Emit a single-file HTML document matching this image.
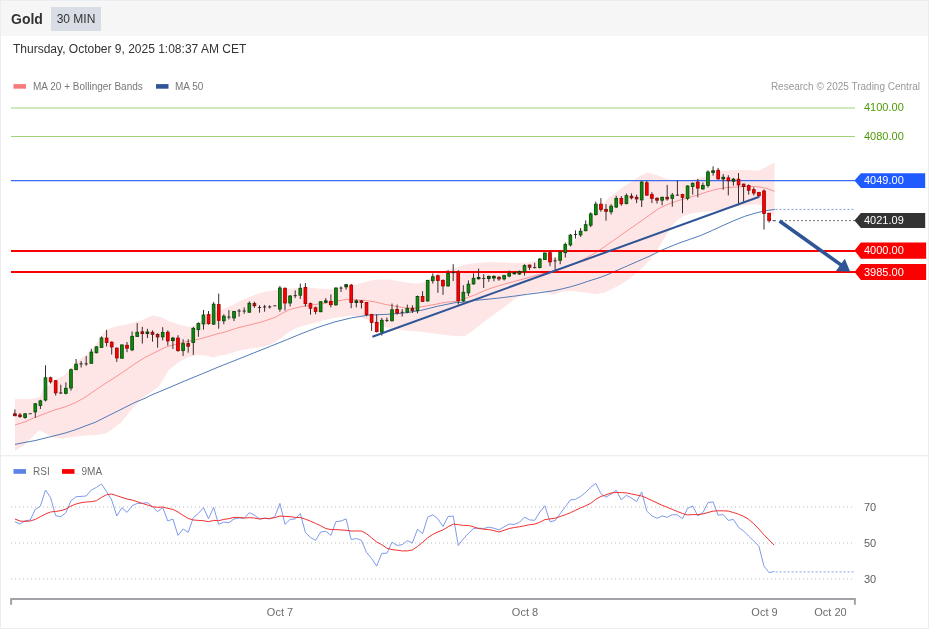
<!DOCTYPE html>
<html><head><meta charset="utf-8"><title>Gold 30 MIN</title>
<style>
html,body{margin:0;padding:0;background:#fff;}
body{width:929px;height:629px;overflow:hidden;position:relative;font-family:"Liberation Sans",Arial,sans-serif;}
#frame{position:absolute;left:0;top:0;width:927px;height:627px;border:1px solid #eaeef2;background:#fff;}
#hdr{position:absolute;left:1px;top:1px;width:927px;height:35px;background:#f6f6f6;}
#title{position:absolute;left:11px;top:10px;font-size:14px;font-weight:bold;color:#333;line-height:18px;}
#tf{position:absolute;left:51px;top:7px;width:50px;height:24px;background:#d8dde6;color:#333;font-size:12px;line-height:24px;text-align:center;}
#date{position:absolute;left:13px;top:41px;font-size:12px;color:#333;line-height:16px;white-space:nowrap;}
svg{position:absolute;left:0;top:0;}
svg text{font-family:"Liberation Sans",Arial,sans-serif;}
</style></head><body>
<div id="frame"></div>
<div id="hdr"></div>
<div id="title">Gold</div>
<div id="tf">30 MIN</div>
<div id="date">Thursday, October 9, 2025 1:08:37 AM CET</div>
<svg width="929" height="629" viewBox="0 0 929 629">
<polygon points="15.0,399.0 32.0,399.0 40.0,397.0 43.5,388.0 48.0,386.0 53.0,382.0 58.0,378.0 63.0,376.0 68.5,371.0 73.5,365.0 79.0,360.0 84.0,356.5 89.0,352.5 95.0,346.0 100.3,337.0 106.8,329.6 116.5,326.3 124.5,324.7 132.6,323.1 140.7,320.7 148.8,316.7 153.6,315.5 161.7,317.5 168.2,320.7 177.9,324.2 187.5,326.8 192.4,327.0 197.0,324.0 202.0,320.0 207.0,316.0 212.0,313.0 217.0,311.0 221.5,309.9 230.5,306.0 240.8,300.8 251.2,296.3 261.5,292.4 271.8,290.5 277.5,289.9 290.5,288.8 297.0,288.0 309.9,288.0 321.2,288.8 329.2,289.3 339.0,288.6 347.0,286.8 356.0,284.6 365.4,282.1 375.8,279.5 389.6,279.5 396.0,280.7 403.3,282.1 412.0,283.2 417.1,283.4 422.0,282.8 427.4,281.0 432.0,276.0 440.0,272.0 448.0,269.5 456.0,267.8 462.8,265.3 469.0,263.7 479.0,263.0 490.0,262.0 500.0,262.2 512.0,263.0 525.5,262.8 535.2,261.2 543.8,259.6 550.3,258.5 556.7,257.2 563.0,254.0 566.0,251.0 572.6,243.3 581.7,231.7 588.0,222.6 594.6,213.6 602.4,204.5 610.0,196.8 620.4,189.0 630.8,182.0 636.0,178.5 641.0,175.5 647.5,172.4 657.2,175.2 666.8,178.9 673.0,180.0 680.0,180.5 690.0,180.0 700.0,178.0 710.0,175.0 715.0,171.8 727.7,170.3 746.8,170.0 758.3,170.9 765.9,167.1 774.5,162.6 774.5,217.3 771.0,213.0 767.0,209.0 762.0,205.5 756.0,204.0 746.8,205.3 739.5,206.3 727.7,208.4 715.0,211.0 700.8,212.0 692.7,213.2 684.6,215.6 678.0,219.6 671.7,226.1 666.8,234.2 662.0,242.2 657.0,250.3 650.0,259.9 640.0,269.9 630.0,278.6 620.0,284.9 610.0,290.0 604.0,292.8 596.4,294.3 584.3,292.5 570.6,290.8 560.2,291.9 553.3,295.0 547.0,292.8 539.6,291.3 527.5,293.4 515.4,298.6 501.7,308.9 489.6,317.5 480.0,325.0 472.4,331.0 465.0,336.0 460.0,336.3 450.0,335.6 437.8,334.1 420.6,331.7 403.3,330.3 389.6,328.6 377.5,325.1 365.4,319.1 360.0,316.8 351.7,315.6 335.0,317.8 324.8,320.0 313.2,323.2 302.9,326.0 296.4,328.1 287.8,332.4 280.9,338.4 270.6,344.4 262.5,347.0 250.0,348.6 237.5,351.1 225.0,354.9 220.0,355.6 213.4,357.5 205.3,355.6 197.2,355.0 187.5,357.5 177.9,362.7 168.2,370.8 163.0,380.0 158.0,387.5 150.0,392.8 142.0,398.5 134.0,406.5 127.5,414.6 121.0,422.7 114.6,427.5 106.5,433.2 98.5,434.8 85.5,435.6 75.9,436.4 69.4,437.2 61.3,438.5 53.2,437.2 45.2,433.2 39.5,430.0 32.2,437.2 24.2,445.3 15.0,451.0" fill="#fee6e6" stroke="none"/>
<line x1="11" x2="855" y1="108" y2="108" stroke="#a3d07c" stroke-width="1.1"/>
<line x1="11" x2="855" y1="136.5" y2="136.5" stroke="#a3d07c" stroke-width="1.1"/>
<polyline points="15.0,424.9 25.0,421.9 35.0,417.4 45.0,413.6 55.0,409.9 65.0,406.9 75.0,402.9 85.0,397.4 95.0,390.4 105.0,383.7 115.0,377.4 125.0,370.7 135.0,363.7 145.0,357.4 155.0,352.4 165.0,347.4 175.0,344.5 185.0,342.0 195.0,340.0 205.0,337.5 215.0,334.5 225.0,332.0 237.5,327.9 250.0,324.9 262.5,321.7 275.0,317.4 282.4,313.2 290.0,309.4 300.0,306.9 310.0,305.4 320.0,303.7 330.0,302.4 340.0,300.4 347.4,299.4 355.0,299.9 365.0,300.4 375.0,301.9 385.0,304.4 395.0,306.2 405.0,307.9 415.0,307.9 425.0,306.2 435.0,304.4 445.0,302.4 457.0,301.2 462.5,299.4 475.0,294.9 487.5,289.4 500.0,285.4 512.4,281.9 525.0,278.6 537.4,274.9 550.0,271.9 562.4,268.6 575.0,263.7 587.4,257.4 600.0,249.9 612.3,241.2 624.8,232.4 637.3,223.7 649.8,214.9 658.8,208.5 668.5,204.0 678.2,200.6 687.9,197.8 697.5,195.1 707.2,191.8 716.9,189.2 726.6,187.6 736.3,187.0 746.0,186.5 755.7,186.5 765.4,188.1 770.0,189.7 774.5,191.3" fill="none" stroke="#f88a8a" stroke-width="0.9"/>
<polyline points="15.0,444.4 25.0,442.4 35.0,440.6 45.0,438.1 55.0,435.6 65.0,433.1 75.0,429.9 85.0,426.1 95.0,422.4 105.0,417.4 115.0,412.4 125.0,407.4 135.0,402.4 145.0,398.3 150.0,395.6 165.0,389.4 184.4,381.1 201.7,374.0 218.9,366.8 236.1,360.0 253.3,353.1 270.6,346.2 287.8,339.3 300.0,334.2 317.2,327.6 334.4,322.0 351.7,317.8 368.9,315.1 386.1,314.4 403.3,313.1 420.6,310.5 437.8,306.2 455.0,302.7 462.8,302.3 475.8,300.3 490.0,299.0 501.7,297.7 512.4,296.4 527.5,294.3 540.0,292.7 553.3,290.8 562.4,288.8 570.6,286.8 579.0,284.3 587.8,281.3 600.0,277.5 610.0,273.6 612.3,272.4 624.8,267.0 637.3,261.5 649.8,256.0 660.0,251.0 668.5,247.3 680.0,242.7 690.8,239.0 701.5,235.2 712.3,230.4 723.0,225.5 733.8,220.7 744.6,216.4 755.3,213.1 764.0,211.0 774.7,209.4" fill="none" stroke="#3e6db0" stroke-width="0.9"/>
<line x1="11" x2="856" y1="180.6" y2="180.6" stroke="#3b6cf0" stroke-width="1.2"/>
<line x1="11" x2="856" y1="251" y2="251" stroke="#fb0000" stroke-width="2.1"/>
<line x1="11" x2="856" y1="272" y2="272" stroke="#fb0000" stroke-width="2.1"/>
<line x1="775.5" x2="855" y1="209.4" y2="209.4" stroke="#7f9cd0" stroke-width="1" stroke-dasharray="2,2"/>
<line x1="781" x2="855" y1="220.6" y2="220.6" stroke="#777" stroke-width="1" stroke-dasharray="2,2"/>
<line x1="14.9" x2="14.9" y1="409.4" y2="416.2" stroke="#3a2a2a" stroke-width="1"/>
<rect x="13.55" y="413.8" width="2.7" height="1.9" fill="#d80808" stroke="#7a1010" stroke-width="0.9"/>
<line x1="20.0" x2="20.0" y1="413.0" y2="417.8" stroke="#3a2a2a" stroke-width="1"/>
<rect x="18.65" y="415.0" width="2.7" height="1.5" fill="#d80808" stroke="#7a1010" stroke-width="0.9"/>
<line x1="25.1" x2="25.1" y1="413.5" y2="418.7" stroke="#3a2a2a" stroke-width="1"/>
<rect x="23.74" y="413.8" width="2.7" height="3.7" fill="#108a10" stroke="#085008" stroke-width="0.9"/>
<line x1="30.2" x2="30.2" y1="413.5" y2="413.7" stroke="#3a2a2a" stroke-width="1"/>
<rect x="28.6" y="413.3" width="3.2" height="0.9" fill="#2a2020"/>
<line x1="35.3" x2="35.3" y1="403.0" y2="417.8" stroke="#3a2a2a" stroke-width="1"/>
<rect x="33.93" y="403.8" width="2.7" height="8.1" fill="#108a10" stroke="#085008" stroke-width="0.9"/>
<line x1="40.4" x2="40.4" y1="399.8" y2="409.0" stroke="#3a2a2a" stroke-width="1"/>
<rect x="39.03" y="400.9" width="2.7" height="4.5" fill="#108a10" stroke="#085008" stroke-width="0.9"/>
<line x1="45.5" x2="45.5" y1="365.3" y2="401.4" stroke="#3a2a2a" stroke-width="1"/>
<rect x="44.13" y="377.8" width="2.7" height="22.2" fill="#108a10" stroke="#085008" stroke-width="0.9"/>
<line x1="50.6" x2="50.6" y1="376.6" y2="383.6" stroke="#3a2a2a" stroke-width="1"/>
<rect x="49.22" y="377.8" width="2.7" height="4.0" fill="#ff0000" stroke="#a80000" stroke-width="0.9"/>
<line x1="55.7" x2="55.7" y1="380.0" y2="395.5" stroke="#3a2a2a" stroke-width="1"/>
<rect x="54.32" y="380.7" width="2.7" height="12.1" fill="#ff0000" stroke="#a80000" stroke-width="0.9"/>
<line x1="60.8" x2="60.8" y1="384.7" y2="393.7" stroke="#3a2a2a" stroke-width="1"/>
<rect x="59.2" y="392.5" width="3.2" height="1.0" fill="#2a2020"/>
<line x1="65.9" x2="65.9" y1="382.3" y2="394.4" stroke="#3a2a2a" stroke-width="1"/>
<rect x="64.51" y="388.3" width="2.7" height="5.0" fill="#108a10" stroke="#085008" stroke-width="0.9"/>
<line x1="71.0" x2="71.0" y1="368.6" y2="390.7" stroke="#3a2a2a" stroke-width="1"/>
<rect x="69.61" y="369.7" width="2.7" height="18.3" fill="#108a10" stroke="#085008" stroke-width="0.9"/>
<line x1="76.1" x2="76.1" y1="359.0" y2="370.2" stroke="#3a2a2a" stroke-width="1"/>
<rect x="74.70" y="364.2" width="2.7" height="5.4" fill="#108a10" stroke="#085008" stroke-width="0.9"/>
<line x1="81.1" x2="81.1" y1="361.0" y2="367.5" stroke="#3a2a2a" stroke-width="1"/>
<rect x="79.5" y="363.4" width="3.2" height="0.9" fill="#2a2020"/>
<line x1="86.2" x2="86.2" y1="356.1" y2="365.8" stroke="#3a2a2a" stroke-width="1"/>
<rect x="84.6" y="363.4" width="3.2" height="0.9" fill="#2a2020"/>
<line x1="91.3" x2="91.3" y1="348.8" y2="363.7" stroke="#3a2a2a" stroke-width="1"/>
<rect x="89.99" y="352.1" width="2.7" height="11.2" fill="#108a10" stroke="#085008" stroke-width="0.9"/>
<line x1="96.4" x2="96.4" y1="346.2" y2="353.3" stroke="#3a2a2a" stroke-width="1"/>
<rect x="95.09" y="346.9" width="2.7" height="5.8" fill="#108a10" stroke="#085008" stroke-width="0.9"/>
<line x1="101.5" x2="101.5" y1="336.4" y2="347.8" stroke="#3a2a2a" stroke-width="1"/>
<rect x="100.18" y="338.0" width="2.7" height="9.4" fill="#108a10" stroke="#085008" stroke-width="0.9"/>
<line x1="106.6" x2="106.6" y1="329.9" y2="346.5" stroke="#3a2a2a" stroke-width="1"/>
<rect x="105.28" y="338.1" width="2.7" height="4.4" fill="#ff0000" stroke="#a80000" stroke-width="0.9"/>
<line x1="111.7" x2="111.7" y1="341.4" y2="354.6" stroke="#3a2a2a" stroke-width="1"/>
<rect x="110.37" y="342.2" width="2.7" height="4.7" fill="#ff0000" stroke="#a80000" stroke-width="0.9"/>
<line x1="116.8" x2="116.8" y1="347.4" y2="361.9" stroke="#3a2a2a" stroke-width="1"/>
<rect x="115.47" y="348.2" width="2.7" height="9.7" fill="#ff0000" stroke="#a80000" stroke-width="0.9"/>
<line x1="121.9" x2="121.9" y1="344.9" y2="358.5" stroke="#3a2a2a" stroke-width="1"/>
<rect x="120.57" y="344.9" width="2.7" height="13.3" fill="#108a10" stroke="#085008" stroke-width="0.9"/>
<line x1="127.0" x2="127.0" y1="342.0" y2="352.2" stroke="#3a2a2a" stroke-width="1"/>
<rect x="125.66" y="345.3" width="2.7" height="2.9" fill="#ff0000" stroke="#a80000" stroke-width="0.9"/>
<line x1="132.1" x2="132.1" y1="331.5" y2="351.1" stroke="#3a2a2a" stroke-width="1"/>
<rect x="130.76" y="336.4" width="2.7" height="13.4" fill="#108a10" stroke="#085008" stroke-width="0.9"/>
<line x1="137.2" x2="137.2" y1="323.1" y2="336.9" stroke="#3a2a2a" stroke-width="1"/>
<rect x="135.85" y="332.3" width="2.7" height="4.1" fill="#108a10" stroke="#085008" stroke-width="0.9"/>
<line x1="142.3" x2="142.3" y1="326.8" y2="343.6" stroke="#3a2a2a" stroke-width="1"/>
<rect x="140.95" y="331.8" width="2.7" height="1.8" fill="#d80808" stroke="#7a1010" stroke-width="0.9"/>
<line x1="147.4" x2="147.4" y1="328.8" y2="338.1" stroke="#3a2a2a" stroke-width="1"/>
<rect x="146.05" y="332.0" width="2.7" height="1.6" fill="#0c6c0c" stroke="#063a06" stroke-width="0.9"/>
<line x1="152.5" x2="152.5" y1="330.4" y2="341.7" stroke="#3a2a2a" stroke-width="1"/>
<rect x="151.14" y="332.3" width="2.7" height="2.0" fill="#d80808" stroke="#7a1010" stroke-width="0.9"/>
<line x1="157.6" x2="157.6" y1="333.3" y2="347.7" stroke="#3a2a2a" stroke-width="1"/>
<rect x="156.24" y="334.4" width="2.7" height="2.5" fill="#d80808" stroke="#7a1010" stroke-width="0.9"/>
<line x1="162.7" x2="162.7" y1="327.2" y2="340.4" stroke="#3a2a2a" stroke-width="1"/>
<rect x="161.33" y="332.5" width="2.7" height="4.4" fill="#108a10" stroke="#085008" stroke-width="0.9"/>
<line x1="167.8" x2="167.8" y1="330.4" y2="345.7" stroke="#3a2a2a" stroke-width="1"/>
<rect x="166.43" y="332.3" width="2.7" height="8.6" fill="#ff0000" stroke="#a80000" stroke-width="0.9"/>
<line x1="172.9" x2="172.9" y1="336.9" y2="349.0" stroke="#3a2a2a" stroke-width="1"/>
<rect x="171.53" y="338.1" width="2.7" height="2.5" fill="#0c6c0c" stroke="#063a06" stroke-width="0.9"/>
<line x1="178.0" x2="178.0" y1="335.2" y2="351.7" stroke="#3a2a2a" stroke-width="1"/>
<rect x="176.62" y="338.1" width="2.7" height="12.5" fill="#ff0000" stroke="#a80000" stroke-width="0.9"/>
<line x1="183.1" x2="183.1" y1="339.3" y2="355.9" stroke="#3a2a2a" stroke-width="1"/>
<rect x="181.72" y="343.6" width="2.7" height="7.0" fill="#108a10" stroke="#085008" stroke-width="0.9"/>
<line x1="188.2" x2="188.2" y1="339.3" y2="352.7" stroke="#3a2a2a" stroke-width="1"/>
<rect x="186.81" y="343.6" width="2.7" height="2.6" fill="#d80808" stroke="#7a1010" stroke-width="0.9"/>
<line x1="193.3" x2="193.3" y1="326.8" y2="354.9" stroke="#3a2a2a" stroke-width="1"/>
<rect x="191.91" y="328.4" width="2.7" height="14.1" fill="#108a10" stroke="#085008" stroke-width="0.9"/>
<line x1="198.4" x2="198.4" y1="322.3" y2="336.8" stroke="#3a2a2a" stroke-width="1"/>
<rect x="197.01" y="323.6" width="2.7" height="6.0" fill="#108a10" stroke="#085008" stroke-width="0.9"/>
<line x1="203.5" x2="203.5" y1="309.9" y2="329.6" stroke="#3a2a2a" stroke-width="1"/>
<rect x="202.10" y="315.0" width="2.7" height="8.9" fill="#108a10" stroke="#085008" stroke-width="0.9"/>
<line x1="208.5" x2="208.5" y1="311.0" y2="324.7" stroke="#3a2a2a" stroke-width="1"/>
<rect x="207.20" y="314.6" width="2.7" height="9.0" fill="#ff0000" stroke="#a80000" stroke-width="0.9"/>
<line x1="213.6" x2="213.6" y1="302.1" y2="324.9" stroke="#3a2a2a" stroke-width="1"/>
<rect x="212.29" y="304.2" width="2.7" height="19.9" fill="#108a10" stroke="#085008" stroke-width="0.9"/>
<line x1="218.7" x2="218.7" y1="293.6" y2="328.7" stroke="#3a2a2a" stroke-width="1"/>
<rect x="217.39" y="304.6" width="2.7" height="15.7" fill="#ff0000" stroke="#a80000" stroke-width="0.9"/>
<line x1="223.8" x2="223.8" y1="314.3" y2="324.3" stroke="#3a2a2a" stroke-width="1"/>
<rect x="222.49" y="316.2" width="2.7" height="4.6" fill="#108a10" stroke="#085008" stroke-width="0.9"/>
<line x1="228.9" x2="228.9" y1="310.1" y2="319.5" stroke="#3a2a2a" stroke-width="1"/>
<rect x="227.3" y="316.6" width="3.2" height="0.9" fill="#2a2020"/>
<line x1="234.0" x2="234.0" y1="311.0" y2="321.1" stroke="#3a2a2a" stroke-width="1"/>
<rect x="232.68" y="311.4" width="2.7" height="6.5" fill="#108a10" stroke="#085008" stroke-width="0.9"/>
<line x1="239.1" x2="239.1" y1="309.0" y2="316.6" stroke="#3a2a2a" stroke-width="1"/>
<rect x="237.5" y="310.5" width="3.2" height="1.0" fill="#2a2020"/>
<line x1="244.2" x2="244.2" y1="307.4" y2="313.8" stroke="#3a2a2a" stroke-width="1"/>
<rect x="242.6" y="310.6" width="3.2" height="0.9" fill="#2a2020"/>
<line x1="249.3" x2="249.3" y1="301.4" y2="312.7" stroke="#3a2a2a" stroke-width="1"/>
<rect x="247.97" y="303.3" width="2.7" height="8.9" fill="#108a10" stroke="#085008" stroke-width="0.9"/>
<line x1="254.4" x2="254.4" y1="301.7" y2="307.8" stroke="#3a2a2a" stroke-width="1"/>
<rect x="253.06" y="303.6" width="2.7" height="2.1" fill="#d80808" stroke="#7a1010" stroke-width="0.9"/>
<line x1="259.5" x2="259.5" y1="305.3" y2="312.7" stroke="#3a2a2a" stroke-width="1"/>
<rect x="257.9" y="307.0" width="3.2" height="0.9" fill="#2a2020"/>
<line x1="264.6" x2="264.6" y1="304.9" y2="311.7" stroke="#3a2a2a" stroke-width="1"/>
<rect x="263.0" y="306.5" width="3.2" height="0.9" fill="#2a2020"/>
<line x1="269.7" x2="269.7" y1="305.3" y2="308.5" stroke="#3a2a2a" stroke-width="1"/>
<rect x="268.1" y="306.5" width="3.2" height="0.9" fill="#2a2020"/>
<line x1="274.8" x2="274.8" y1="305.5" y2="305.9" stroke="#3a2a2a" stroke-width="1"/>
<rect x="273.2" y="305.4" width="3.2" height="0.9" fill="#2a2020"/>
<line x1="279.9" x2="279.9" y1="285.9" y2="311.7" stroke="#3a2a2a" stroke-width="1"/>
<rect x="278.54" y="288.0" width="2.7" height="21.0" fill="#108a10" stroke="#085008" stroke-width="0.9"/>
<line x1="285.0" x2="285.0" y1="287.5" y2="310.6" stroke="#3a2a2a" stroke-width="1"/>
<rect x="283.64" y="288.3" width="2.7" height="14.7" fill="#ff0000" stroke="#a80000" stroke-width="0.9"/>
<line x1="290.1" x2="290.1" y1="295.2" y2="306.5" stroke="#3a2a2a" stroke-width="1"/>
<rect x="288.73" y="296.0" width="2.7" height="7.0" fill="#108a10" stroke="#085008" stroke-width="0.9"/>
<line x1="295.2" x2="295.2" y1="290.4" y2="298.1" stroke="#3a2a2a" stroke-width="1"/>
<rect x="293.6" y="295.2" width="3.2" height="0.9" fill="#2a2020"/>
<line x1="300.3" x2="300.3" y1="283.6" y2="299.0" stroke="#3a2a2a" stroke-width="1"/>
<rect x="298.93" y="288.3" width="2.7" height="6.9" fill="#108a10" stroke="#085008" stroke-width="0.9"/>
<line x1="305.4" x2="305.4" y1="283.1" y2="306.5" stroke="#3a2a2a" stroke-width="1"/>
<rect x="304.02" y="287.5" width="2.7" height="16.1" fill="#ff0000" stroke="#a80000" stroke-width="0.9"/>
<line x1="310.5" x2="310.5" y1="302.5" y2="314.6" stroke="#3a2a2a" stroke-width="1"/>
<rect x="309.12" y="303.6" width="2.7" height="4.6" fill="#ff0000" stroke="#a80000" stroke-width="0.9"/>
<line x1="315.6" x2="315.6" y1="306.5" y2="314.3" stroke="#3a2a2a" stroke-width="1"/>
<rect x="314.21" y="307.8" width="2.7" height="3.6" fill="#ff0000" stroke="#a80000" stroke-width="0.9"/>
<line x1="320.7" x2="320.7" y1="301.4" y2="312.2" stroke="#3a2a2a" stroke-width="1"/>
<rect x="319.31" y="301.7" width="2.7" height="10.0" fill="#108a10" stroke="#085008" stroke-width="0.9"/>
<line x1="325.8" x2="325.8" y1="298.1" y2="303.3" stroke="#3a2a2a" stroke-width="1"/>
<rect x="324.41" y="300.9" width="2.7" height="1.3" fill="#0c6c0c" stroke="#063a06" stroke-width="0.9"/>
<line x1="330.9" x2="330.9" y1="294.4" y2="307.4" stroke="#3a2a2a" stroke-width="1"/>
<rect x="329.50" y="301.4" width="2.7" height="3.2" fill="#ff0000" stroke="#a80000" stroke-width="0.9"/>
<line x1="335.9" x2="335.9" y1="287.5" y2="305.4" stroke="#3a2a2a" stroke-width="1"/>
<rect x="334.60" y="288.0" width="2.7" height="16.9" fill="#108a10" stroke="#085008" stroke-width="0.9"/>
<line x1="341.0" x2="341.0" y1="286.3" y2="292.0" stroke="#3a2a2a" stroke-width="1"/>
<rect x="339.4" y="287.6" width="3.2" height="0.9" fill="#2a2020"/>
<line x1="346.1" x2="346.1" y1="283.9" y2="289.6" stroke="#3a2a2a" stroke-width="1"/>
<rect x="344.79" y="284.7" width="2.7" height="2.1" fill="#0c6c0c" stroke="#063a06" stroke-width="0.9"/>
<line x1="351.2" x2="351.2" y1="283.9" y2="308.2" stroke="#3a2a2a" stroke-width="1"/>
<rect x="349.89" y="285.2" width="2.7" height="17.3" fill="#ff0000" stroke="#a80000" stroke-width="0.9"/>
<line x1="356.3" x2="356.3" y1="299.3" y2="307.4" stroke="#3a2a2a" stroke-width="1"/>
<rect x="354.98" y="300.9" width="2.7" height="1.6" fill="#0c6c0c" stroke="#063a06" stroke-width="0.9"/>
<line x1="361.4" x2="361.4" y1="300.0" y2="308.5" stroke="#3a2a2a" stroke-width="1"/>
<rect x="360.08" y="300.9" width="2.7" height="1.6" fill="#d80808" stroke="#7a1010" stroke-width="0.9"/>
<line x1="366.5" x2="366.5" y1="302.0" y2="316.2" stroke="#3a2a2a" stroke-width="1"/>
<rect x="365.17" y="302.5" width="2.7" height="12.1" fill="#ff0000" stroke="#a80000" stroke-width="0.9"/>
<line x1="371.6" x2="371.6" y1="313.8" y2="330.8" stroke="#3a2a2a" stroke-width="1"/>
<rect x="370.27" y="314.6" width="2.7" height="7.8" fill="#ff0000" stroke="#a80000" stroke-width="0.9"/>
<line x1="376.7" x2="376.7" y1="314.3" y2="332.4" stroke="#3a2a2a" stroke-width="1"/>
<rect x="375.37" y="322.4" width="2.7" height="9.2" fill="#ff0000" stroke="#a80000" stroke-width="0.9"/>
<line x1="381.8" x2="381.8" y1="317.9" y2="335.6" stroke="#3a2a2a" stroke-width="1"/>
<rect x="380.46" y="320.3" width="2.7" height="11.8" fill="#108a10" stroke="#085008" stroke-width="0.9"/>
<line x1="386.9" x2="386.9" y1="317.5" y2="321.9" stroke="#3a2a2a" stroke-width="1"/>
<rect x="385.3" y="319.9" width="3.2" height="0.9" fill="#2a2020"/>
<line x1="392.0" x2="392.0" y1="303.6" y2="321.4" stroke="#3a2a2a" stroke-width="1"/>
<rect x="390.65" y="309.8" width="2.7" height="11.0" fill="#108a10" stroke="#085008" stroke-width="0.9"/>
<line x1="397.1" x2="397.1" y1="304.6" y2="314.6" stroke="#3a2a2a" stroke-width="1"/>
<rect x="395.75" y="309.5" width="2.7" height="3.5" fill="#ff0000" stroke="#a80000" stroke-width="0.9"/>
<line x1="402.2" x2="402.2" y1="309.0" y2="316.6" stroke="#3a2a2a" stroke-width="1"/>
<rect x="400.6" y="311.8" width="3.2" height="0.9" fill="#2a2020"/>
<line x1="407.3" x2="407.3" y1="304.6" y2="313.3" stroke="#3a2a2a" stroke-width="1"/>
<rect x="405.94" y="308.5" width="2.7" height="3.7" fill="#108a10" stroke="#085008" stroke-width="0.9"/>
<line x1="412.4" x2="412.4" y1="305.3" y2="313.0" stroke="#3a2a2a" stroke-width="1"/>
<rect x="411.04" y="308.5" width="2.7" height="2.1" fill="#d80808" stroke="#7a1010" stroke-width="0.9"/>
<line x1="417.5" x2="417.5" y1="295.6" y2="313.3" stroke="#3a2a2a" stroke-width="1"/>
<rect x="416.13" y="296.5" width="2.7" height="14.1" fill="#108a10" stroke="#085008" stroke-width="0.9"/>
<line x1="422.6" x2="422.6" y1="291.2" y2="302.0" stroke="#3a2a2a" stroke-width="1"/>
<rect x="421.23" y="296.5" width="2.7" height="4.9" fill="#ff0000" stroke="#a80000" stroke-width="0.9"/>
<line x1="427.7" x2="427.7" y1="279.9" y2="301.7" stroke="#3a2a2a" stroke-width="1"/>
<rect x="426.33" y="280.4" width="2.7" height="20.5" fill="#108a10" stroke="#085008" stroke-width="0.9"/>
<line x1="432.8" x2="432.8" y1="273.4" y2="283.6" stroke="#3a2a2a" stroke-width="1"/>
<rect x="431.42" y="276.7" width="2.7" height="4.0" fill="#108a10" stroke="#085008" stroke-width="0.9"/>
<line x1="437.9" x2="437.9" y1="274.6" y2="292.8" stroke="#3a2a2a" stroke-width="1"/>
<rect x="436.52" y="275.8" width="2.7" height="4.6" fill="#ff0000" stroke="#a80000" stroke-width="0.9"/>
<line x1="443.0" x2="443.0" y1="279.4" y2="294.9" stroke="#3a2a2a" stroke-width="1"/>
<rect x="441.61" y="280.4" width="2.7" height="5.5" fill="#ff0000" stroke="#a80000" stroke-width="0.9"/>
<line x1="448.1" x2="448.1" y1="270.2" y2="286.8" stroke="#3a2a2a" stroke-width="1"/>
<rect x="446.71" y="273.4" width="2.7" height="12.5" fill="#108a10" stroke="#085008" stroke-width="0.9"/>
<line x1="453.2" x2="453.2" y1="264.2" y2="281.0" stroke="#3a2a2a" stroke-width="1"/>
<rect x="451.6" y="272.2" width="3.2" height="0.9" fill="#2a2020"/>
<line x1="458.3" x2="458.3" y1="270.2" y2="304.6" stroke="#3a2a2a" stroke-width="1"/>
<rect x="456.90" y="271.8" width="2.7" height="29.1" fill="#ff0000" stroke="#a80000" stroke-width="0.9"/>
<line x1="463.3" x2="463.3" y1="285.2" y2="302.0" stroke="#3a2a2a" stroke-width="1"/>
<rect x="462.00" y="292.3" width="2.7" height="8.6" fill="#108a10" stroke="#085008" stroke-width="0.9"/>
<line x1="468.4" x2="468.4" y1="280.4" y2="296.0" stroke="#3a2a2a" stroke-width="1"/>
<rect x="467.09" y="284.2" width="2.7" height="8.6" fill="#108a10" stroke="#085008" stroke-width="0.9"/>
<line x1="473.5" x2="473.5" y1="273.4" y2="284.7" stroke="#3a2a2a" stroke-width="1"/>
<rect x="472.19" y="278.3" width="2.7" height="5.6" fill="#108a10" stroke="#085008" stroke-width="0.9"/>
<line x1="478.6" x2="478.6" y1="268.6" y2="279.4" stroke="#3a2a2a" stroke-width="1"/>
<rect x="477.29" y="277.5" width="2.7" height="1.3" fill="#0c6c0c" stroke="#063a06" stroke-width="0.9"/>
<line x1="483.7" x2="483.7" y1="274.2" y2="288.0" stroke="#3a2a2a" stroke-width="1"/>
<rect x="482.1" y="277.9" width="3.2" height="0.9" fill="#2a2020"/>
<line x1="488.8" x2="488.8" y1="275.6" y2="281.8" stroke="#3a2a2a" stroke-width="1"/>
<rect x="487.48" y="276.4" width="2.7" height="2.1" fill="#0c6c0c" stroke="#063a06" stroke-width="0.9"/>
<line x1="493.9" x2="493.9" y1="275.3" y2="281.3" stroke="#3a2a2a" stroke-width="1"/>
<rect x="492.57" y="276.4" width="2.7" height="1.6" fill="#0c6c0c" stroke="#063a06" stroke-width="0.9"/>
<line x1="499.0" x2="499.0" y1="276.4" y2="280.8" stroke="#3a2a2a" stroke-width="1"/>
<rect x="497.67" y="277.2" width="2.7" height="1.7" fill="#d80808" stroke="#7a1010" stroke-width="0.9"/>
<line x1="504.1" x2="504.1" y1="274.8" y2="280.5" stroke="#3a2a2a" stroke-width="1"/>
<rect x="502.77" y="275.6" width="2.7" height="3.3" fill="#108a10" stroke="#085008" stroke-width="0.9"/>
<line x1="509.2" x2="509.2" y1="270.5" y2="277.2" stroke="#3a2a2a" stroke-width="1"/>
<rect x="507.86" y="273.2" width="2.7" height="2.9" fill="#108a10" stroke="#085008" stroke-width="0.9"/>
<line x1="514.3" x2="514.3" y1="272.0" y2="274.4" stroke="#3a2a2a" stroke-width="1"/>
<rect x="512.96" y="272.8" width="2.7" height="1.0" fill="#0c6c0c" stroke="#063a06" stroke-width="0.9"/>
<line x1="519.4" x2="519.4" y1="270.5" y2="274.8" stroke="#3a2a2a" stroke-width="1"/>
<rect x="518.05" y="271.6" width="2.7" height="2.4" fill="#0c6c0c" stroke="#063a06" stroke-width="0.9"/>
<line x1="524.5" x2="524.5" y1="264.3" y2="275.6" stroke="#3a2a2a" stroke-width="1"/>
<rect x="523.15" y="265.6" width="2.7" height="6.0" fill="#108a10" stroke="#085008" stroke-width="0.9"/>
<line x1="529.6" x2="529.6" y1="264.6" y2="270.0" stroke="#3a2a2a" stroke-width="1"/>
<rect x="528.25" y="265.1" width="2.7" height="2.1" fill="#d80808" stroke="#7a1010" stroke-width="0.9"/>
<line x1="534.7" x2="534.7" y1="262.7" y2="268.4" stroke="#3a2a2a" stroke-width="1"/>
<rect x="533.1" y="267.2" width="3.2" height="0.9" fill="#2a2020"/>
<line x1="539.8" x2="539.8" y1="257.9" y2="268.4" stroke="#3a2a2a" stroke-width="1"/>
<rect x="538.44" y="259.1" width="2.7" height="8.4" fill="#108a10" stroke="#085008" stroke-width="0.9"/>
<line x1="544.9" x2="544.9" y1="252.7" y2="259.8" stroke="#3a2a2a" stroke-width="1"/>
<rect x="543.53" y="253.0" width="2.7" height="6.5" fill="#108a10" stroke="#085008" stroke-width="0.9"/>
<line x1="550.0" x2="550.0" y1="251.7" y2="266.3" stroke="#3a2a2a" stroke-width="1"/>
<rect x="548.63" y="252.7" width="2.7" height="9.2" fill="#ff0000" stroke="#a80000" stroke-width="0.9"/>
<line x1="555.1" x2="555.1" y1="257.5" y2="270.8" stroke="#3a2a2a" stroke-width="1"/>
<rect x="553.5" y="260.4" width="3.2" height="0.9" fill="#2a2020"/>
<line x1="560.2" x2="560.2" y1="251.4" y2="264.3" stroke="#3a2a2a" stroke-width="1"/>
<rect x="558.82" y="252.2" width="2.7" height="8.1" fill="#108a10" stroke="#085008" stroke-width="0.9"/>
<line x1="565.3" x2="565.3" y1="242.5" y2="257.5" stroke="#3a2a2a" stroke-width="1"/>
<rect x="563.92" y="244.6" width="2.7" height="8.1" fill="#108a10" stroke="#085008" stroke-width="0.9"/>
<line x1="570.4" x2="570.4" y1="233.9" y2="246.5" stroke="#3a2a2a" stroke-width="1"/>
<rect x="569.01" y="235.2" width="2.7" height="9.7" fill="#108a10" stroke="#085008" stroke-width="0.9"/>
<line x1="575.5" x2="575.5" y1="230.4" y2="238.5" stroke="#3a2a2a" stroke-width="1"/>
<rect x="573.9" y="234.0" width="3.2" height="0.9" fill="#2a2020"/>
<line x1="580.6" x2="580.6" y1="228.0" y2="236.8" stroke="#3a2a2a" stroke-width="1"/>
<rect x="579.21" y="231.2" width="2.7" height="3.7" fill="#108a10" stroke="#085008" stroke-width="0.9"/>
<line x1="585.7" x2="585.7" y1="220.4" y2="231.2" stroke="#3a2a2a" stroke-width="1"/>
<rect x="584.30" y="224.7" width="2.7" height="6.0" fill="#108a10" stroke="#085008" stroke-width="0.9"/>
<line x1="590.7" x2="590.7" y1="212.3" y2="227.2" stroke="#3a2a2a" stroke-width="1"/>
<rect x="589.40" y="213.9" width="2.7" height="11.3" fill="#108a10" stroke="#085008" stroke-width="0.9"/>
<line x1="595.8" x2="595.8" y1="201.6" y2="215.5" stroke="#3a2a2a" stroke-width="1"/>
<rect x="594.49" y="204.2" width="2.7" height="10.4" fill="#108a10" stroke="#085008" stroke-width="0.9"/>
<line x1="600.9" x2="600.9" y1="198.1" y2="211.8" stroke="#3a2a2a" stroke-width="1"/>
<rect x="599.59" y="204.2" width="2.7" height="5.2" fill="#ff0000" stroke="#a80000" stroke-width="0.9"/>
<line x1="606.0" x2="606.0" y1="204.2" y2="220.7" stroke="#3a2a2a" stroke-width="1"/>
<rect x="604.69" y="209.4" width="2.7" height="1.9" fill="#d80808" stroke="#7a1010" stroke-width="0.9"/>
<line x1="611.1" x2="611.1" y1="204.2" y2="214.6" stroke="#3a2a2a" stroke-width="1"/>
<rect x="609.78" y="206.2" width="2.7" height="5.6" fill="#108a10" stroke="#085008" stroke-width="0.9"/>
<line x1="616.2" x2="616.2" y1="195.7" y2="208.1" stroke="#3a2a2a" stroke-width="1"/>
<rect x="614.88" y="198.4" width="2.7" height="8.6" fill="#108a10" stroke="#085008" stroke-width="0.9"/>
<line x1="621.3" x2="621.3" y1="196.1" y2="205.8" stroke="#3a2a2a" stroke-width="1"/>
<rect x="619.97" y="198.4" width="2.7" height="5.3" fill="#ff0000" stroke="#a80000" stroke-width="0.9"/>
<line x1="626.4" x2="626.4" y1="193.5" y2="204.3" stroke="#3a2a2a" stroke-width="1"/>
<rect x="625.07" y="195.7" width="2.7" height="7.9" fill="#108a10" stroke="#085008" stroke-width="0.9"/>
<line x1="631.5" x2="631.5" y1="193.4" y2="199.4" stroke="#3a2a2a" stroke-width="1"/>
<rect x="630.17" y="196.2" width="2.7" height="1.6" fill="#d80808" stroke="#7a1010" stroke-width="0.9"/>
<line x1="636.6" x2="636.6" y1="194.6" y2="203.1" stroke="#3a2a2a" stroke-width="1"/>
<rect x="635.26" y="197.3" width="2.7" height="1.6" fill="#d80808" stroke="#7a1010" stroke-width="0.9"/>
<line x1="641.7" x2="641.7" y1="180.8" y2="207.0" stroke="#3a2a2a" stroke-width="1"/>
<rect x="640.36" y="182.1" width="2.7" height="17.8" fill="#108a10" stroke="#085008" stroke-width="0.9"/>
<line x1="646.8" x2="646.8" y1="180.8" y2="195.7" stroke="#3a2a2a" stroke-width="1"/>
<rect x="645.45" y="182.8" width="2.7" height="12.3" fill="#ff0000" stroke="#a80000" stroke-width="0.9"/>
<line x1="651.9" x2="651.9" y1="192.2" y2="203.1" stroke="#3a2a2a" stroke-width="1"/>
<rect x="650.55" y="194.6" width="2.7" height="3.7" fill="#ff0000" stroke="#a80000" stroke-width="0.9"/>
<line x1="657.0" x2="657.0" y1="197.3" y2="203.5" stroke="#3a2a2a" stroke-width="1"/>
<rect x="655.65" y="198.3" width="2.7" height="1.9" fill="#d80808" stroke="#7a1010" stroke-width="0.9"/>
<line x1="662.1" x2="662.1" y1="196.7" y2="205.4" stroke="#3a2a2a" stroke-width="1"/>
<rect x="660.74" y="197.3" width="2.7" height="2.9" fill="#108a10" stroke="#085008" stroke-width="0.9"/>
<line x1="667.2" x2="667.2" y1="184.9" y2="200.6" stroke="#3a2a2a" stroke-width="1"/>
<rect x="665.84" y="197.3" width="2.7" height="1.6" fill="#d80808" stroke="#7a1010" stroke-width="0.9"/>
<line x1="672.3" x2="672.3" y1="193.0" y2="206.7" stroke="#3a2a2a" stroke-width="1"/>
<rect x="670.93" y="195.1" width="2.7" height="3.2" fill="#108a10" stroke="#085008" stroke-width="0.9"/>
<line x1="677.4" x2="677.4" y1="180.5" y2="195.6" stroke="#3a2a2a" stroke-width="1"/>
<rect x="675.8" y="194.7" width="3.2" height="0.9" fill="#2a2020"/>
<line x1="682.5" x2="682.5" y1="193.8" y2="213.2" stroke="#3a2a2a" stroke-width="1"/>
<rect x="681.13" y="194.6" width="2.7" height="2.7" fill="#ff0000" stroke="#a80000" stroke-width="0.9"/>
<line x1="687.6" x2="687.6" y1="185.4" y2="200.2" stroke="#3a2a2a" stroke-width="1"/>
<rect x="686.22" y="186.0" width="2.7" height="12.3" fill="#108a10" stroke="#085008" stroke-width="0.9"/>
<line x1="692.7" x2="692.7" y1="182.5" y2="194.6" stroke="#3a2a2a" stroke-width="1"/>
<rect x="691.32" y="183.3" width="2.7" height="3.2" fill="#108a10" stroke="#085008" stroke-width="0.9"/>
<line x1="697.8" x2="697.8" y1="178.9" y2="197.3" stroke="#3a2a2a" stroke-width="1"/>
<rect x="696.41" y="182.1" width="2.7" height="6.0" fill="#ff0000" stroke="#a80000" stroke-width="0.9"/>
<line x1="702.9" x2="702.9" y1="182.5" y2="189.7" stroke="#3a2a2a" stroke-width="1"/>
<rect x="701.51" y="185.4" width="2.7" height="3.5" fill="#108a10" stroke="#085008" stroke-width="0.9"/>
<line x1="708.0" x2="708.0" y1="170.3" y2="187.6" stroke="#3a2a2a" stroke-width="1"/>
<rect x="706.61" y="172.0" width="2.7" height="13.4" fill="#108a10" stroke="#085008" stroke-width="0.9"/>
<line x1="713.1" x2="713.1" y1="166.3" y2="175.7" stroke="#3a2a2a" stroke-width="1"/>
<rect x="711.70" y="170.8" width="2.7" height="1.6" fill="#0c6c0c" stroke="#063a06" stroke-width="0.9"/>
<line x1="718.1" x2="718.1" y1="167.9" y2="179.6" stroke="#3a2a2a" stroke-width="1"/>
<rect x="716.80" y="170.3" width="2.7" height="8.6" fill="#ff0000" stroke="#a80000" stroke-width="0.9"/>
<line x1="723.2" x2="723.2" y1="174.1" y2="189.7" stroke="#3a2a2a" stroke-width="1"/>
<rect x="721.89" y="177.3" width="2.7" height="1.6" fill="#0c6c0c" stroke="#063a06" stroke-width="0.9"/>
<line x1="728.3" x2="728.3" y1="175.2" y2="195.4" stroke="#3a2a2a" stroke-width="1"/>
<rect x="726.99" y="177.9" width="2.7" height="2.9" fill="#ff0000" stroke="#a80000" stroke-width="0.9"/>
<line x1="733.4" x2="733.4" y1="177.9" y2="185.7" stroke="#3a2a2a" stroke-width="1"/>
<rect x="732.09" y="179.2" width="2.7" height="2.0" fill="#0c6c0c" stroke="#063a06" stroke-width="0.9"/>
<line x1="738.5" x2="738.5" y1="173.1" y2="205.4" stroke="#3a2a2a" stroke-width="1"/>
<rect x="737.18" y="179.2" width="2.7" height="5.7" fill="#ff0000" stroke="#a80000" stroke-width="0.9"/>
<line x1="743.6" x2="743.6" y1="183.8" y2="201.8" stroke="#3a2a2a" stroke-width="1"/>
<rect x="742.28" y="184.1" width="2.7" height="2.4" fill="#d80808" stroke="#7a1010" stroke-width="0.9"/>
<line x1="748.7" x2="748.7" y1="184.4" y2="194.6" stroke="#3a2a2a" stroke-width="1"/>
<rect x="747.37" y="185.7" width="2.7" height="4.5" fill="#ff0000" stroke="#a80000" stroke-width="0.9"/>
<line x1="753.8" x2="753.8" y1="187.3" y2="195.4" stroke="#3a2a2a" stroke-width="1"/>
<rect x="752.47" y="189.7" width="2.7" height="3.3" fill="#ff0000" stroke="#a80000" stroke-width="0.9"/>
<line x1="758.9" x2="758.9" y1="191.8" y2="196.7" stroke="#3a2a2a" stroke-width="1"/>
<rect x="757.57" y="192.5" width="2.7" height="3.2" fill="#ff0000" stroke="#a80000" stroke-width="0.9"/>
<line x1="764.0" x2="764.0" y1="189.3" y2="229.5" stroke="#3a2a2a" stroke-width="1"/>
<rect x="762.66" y="191.0" width="2.7" height="22.5" fill="#ff0000" stroke="#a80000" stroke-width="0.9"/>
<line x1="769.1" x2="769.1" y1="213.0" y2="222.6" stroke="#3a2a2a" stroke-width="1"/>
<rect x="767.76" y="213.2" width="2.7" height="7.4" fill="#ff0000" stroke="#a80000" stroke-width="0.9"/>
<line x1="774.2" x2="774.2" y1="220.7" y2="220.7" stroke="#3a2a2a" stroke-width="1"/>
<rect x="772.6" y="220.3" width="3.2" height="0.9" fill="#2a2020"/>
<line x1="372.4" y1="336.7" x2="759.3" y2="196.8" stroke="#2f5597" stroke-width="2.0" stroke-linecap="butt"/>
<line x1="779.5" y1="221" x2="842" y2="265.6" stroke="#2f5597" stroke-width="3.6"/>
<polygon points="850.2,271.8 835.9,270.9 844.8,258.7" fill="#2f5597"/>
<polygon points="854.5,180.55 860.9,173.15 925.2,173.15 925.2,187.95 860.9,187.95" fill="#1f5bff"/>
<text x="864" y="183.7" font-size="11" fill="#fff">4049.00</text>
<polygon points="854.5,220.5 860.9,213.10 925.2,213.10 925.2,227.90 860.9,227.90" fill="#333333"/>
<text x="864" y="223.8" font-size="11" fill="#fff">4021.09</text>
<polygon points="854.5,250.6 860.9,242.55 926.1,242.55 926.1,258.65 860.9,258.65" fill="#fb0000"/>
<text x="864" y="253.5" font-size="11" fill="#fff">4000.00</text>
<polygon points="854.5,272.05 860.9,264.00 926.1,264.00 926.1,280.10 860.9,280.10" fill="#fb0000"/>
<text x="864" y="275.6" font-size="11" fill="#fff">3985.00</text>
<text x="864" y="111.3" font-size="11" fill="#4e9a06">4100.00</text>
<text x="864" y="140" font-size="11" fill="#4e9a06">4080.00</text>
<line x1="0" x2="929" y1="455.8" y2="455.8" stroke="#e9e9e9" stroke-width="1"/>
<line x1="11" x2="855" y1="507" y2="507" stroke="#d2d2d2" stroke-width="1.7" stroke-dasharray="1,3"/>
<line x1="11" x2="855" y1="543" y2="543" stroke="#d2d2d2" stroke-width="1.7" stroke-dasharray="1,3"/>
<line x1="11" x2="855" y1="579" y2="579" stroke="#d2d2d2" stroke-width="1.7" stroke-dasharray="1,3"/>
<text x="864" y="511" font-size="11" fill="#5e5e62">70</text>
<text x="864" y="547" font-size="11" fill="#5e5e62">50</text>
<text x="864" y="583" font-size="11" fill="#5e5e62">30</text>
<polyline points="14.9,521.7 20.0,524.1 25.1,520.7 30.2,520.1 35.3,509.4 40.4,506.1 45.5,490.0 50.6,497.7 55.7,515.7 60.8,516.7 65.9,512.7 71.0,500.7 76.1,496.7 81.1,496.4 86.2,496.0 91.3,490.0 96.4,487.4 101.5,484.0 106.6,491.7 111.7,500.0 116.8,516.0 121.9,507.7 127.0,512.4 132.1,505.7 137.2,503.4 142.3,503.4 147.4,502.7 152.5,506.7 157.6,511.7 162.7,507.4 167.8,521.0 172.9,519.0 178.0,535.4 183.1,529.0 188.2,532.4 193.3,517.7 198.4,513.4 203.5,507.7 208.5,518.7 213.6,507.4 218.7,524.4 223.8,522.0 228.9,522.7 234.0,519.0 239.1,518.0 244.2,518.4 249.3,512.7 254.4,515.0 259.5,519.0 264.6,518.0 269.7,519.0 274.8,516.7 279.9,503.4 285.0,524.4 290.1,519.4 295.2,519.0 300.3,513.5 305.4,532.4 310.5,537.6 315.6,540.3 320.7,532.0 325.8,531.3 330.9,535.4 335.9,521.7 341.0,521.0 346.1,518.9 351.2,539.6 356.3,538.5 361.4,540.3 366.5,552.3 371.6,558.5 376.7,566.1 381.8,553.3 386.9,553.3 392.0,542.3 397.1,545.4 402.2,544.7 407.3,540.6 412.4,543.0 417.5,529.2 422.6,533.7 427.7,517.2 432.8,514.8 437.9,518.9 443.0,526.5 448.1,516.5 453.2,516.1 458.3,545.4 463.3,538.9 468.4,533.4 473.5,528.5 478.6,528.2 483.7,528.5 488.8,527.2 493.9,528.2 499.0,529.9 504.1,526.8 509.2,524.1 514.3,524.4 519.4,522.3 524.5,517.2 529.6,519.9 534.7,520.3 539.8,512.0 544.9,505.8 550.0,521.7 555.1,520.6 560.2,513.7 565.3,506.8 570.4,499.9 575.5,499.3 580.6,496.5 585.7,492.4 590.7,487.2 595.8,483.4 600.9,493.7 606.0,497.2 611.1,494.1 616.2,490.3 621.3,499.8 626.4,495.3 631.5,498.1 636.6,501.5 641.7,491.9 646.8,511.1 651.9,515.9 657.0,518.3 662.1,515.9 667.2,517.3 672.3,514.6 677.4,514.9 682.5,518.7 687.6,508.4 692.7,506.0 697.8,515.9 702.9,512.5 708.0,502.5 713.1,501.9 718.1,515.2 723.2,514.6 728.3,520.4 733.4,519.4 738.5,527.3 743.6,531.0 748.7,536.2 753.8,541.0 758.9,546.2 764.0,566.1 769.1,572.6 774.2,571.6" fill="none" stroke="#6f8fe8" stroke-width="0.9" stroke-linejoin="round"/>
<polyline points="14.9,519.0 20.0,521.0 25.1,521.4 30.2,521.0 35.3,519.4 40.4,516.7 45.5,514.0 50.6,512.0 55.7,511.4 60.8,510.7 65.9,509.0 71.0,506.0 76.1,504.0 81.1,502.7 86.2,502.0 91.3,501.7 96.4,500.7 101.5,497.4 106.6,494.7 111.7,494.0 116.8,495.7 121.9,497.4 127.0,499.0 132.1,500.0 137.2,501.7 142.3,503.4 147.4,505.0 152.5,506.7 157.6,507.4 162.7,507.0 167.8,508.4 172.9,509.4 178.0,512.0 183.1,515.4 188.2,518.4 193.3,520.0 198.4,520.4 203.5,520.7 208.5,521.7 213.6,520.4 218.7,520.7 223.8,519.4 228.9,518.7 234.0,517.4 239.1,517.4 244.2,518.0 249.3,517.7 254.4,518.0 259.5,519.0 264.6,518.4 269.7,518.4 274.8,517.7 279.9,516.0 285.0,516.4 290.1,516.7 295.2,517.4 300.3,517.5 305.4,519.2 310.5,521.1 315.6,523.4 320.7,525.8 325.8,528.5 330.9,529.6 335.9,529.6 341.0,529.9 346.1,530.3 351.2,531.0 356.3,531.0 361.4,531.0 366.5,533.7 371.6,537.8 376.7,542.0 381.8,544.7 386.9,548.2 392.0,549.6 397.1,550.2 402.2,550.9 407.3,550.9 412.4,549.9 417.5,546.5 422.6,542.3 427.7,537.8 432.8,534.4 437.9,532.0 443.0,529.9 448.1,526.8 453.2,524.1 458.3,524.7 463.3,525.4 468.4,525.4 473.5,526.8 478.6,528.5 483.7,529.2 488.8,529.6 493.9,530.6 499.0,532.0 504.1,530.3 509.2,528.5 514.3,527.5 519.4,526.8 524.5,525.8 529.6,524.7 534.7,524.1 539.8,522.3 544.9,519.6 550.0,518.9 555.1,518.2 560.2,516.5 565.3,514.8 570.4,512.7 575.5,510.3 580.6,507.9 585.7,505.8 590.7,503.4 595.8,499.3 600.9,496.5 606.0,494.8 611.1,493.0 616.2,492.5 621.3,492.6 626.4,492.9 631.5,494.0 636.6,495.0 641.7,496.0 646.8,498.1 651.9,500.5 657.0,502.9 662.1,505.3 667.2,507.3 672.3,509.4 677.4,511.5 682.5,513.5 687.6,514.9 692.7,514.6 697.8,514.6 702.9,513.9 708.0,512.5 713.1,511.1 718.1,510.8 723.2,510.8 728.3,511.1 733.4,512.5 738.5,514.2 743.6,516.3 748.7,519.4 753.8,523.8 758.9,529.0 764.0,534.8 769.1,540.0 774.2,545.1" fill="none" stroke="#f03030" stroke-width="1.0" stroke-linejoin="round"/>
<line x1="775.5" x2="855" y1="571.9" y2="571.9" stroke="#9fb4ee" stroke-width="1.1" stroke-dasharray="2,2"/>
<polyline points="11.1,604.8 11.1,599.1 854.9,599.1 854.9,604.8" fill="none" stroke="#a2a2a8" stroke-width="2"/>
<text x="280" y="616" font-size="11" fill="#6c6c6c" text-anchor="middle">Oct 7</text>
<text x="525" y="616" font-size="11" fill="#6c6c6c" text-anchor="middle">Oct 8</text>
<text x="764.5" y="616" font-size="11" fill="#6c6c6c" text-anchor="middle">Oct 9</text>
<text x="830.5" y="616" font-size="11" fill="#6c6c6c" text-anchor="middle">Oct 20</text>
<rect x="13.5" y="84.1" width="12.5" height="4.6" fill="#f87a7a"/>
<text x="33" y="89.5" font-size="10" fill="#777">MA 20 + Bollinger Bands</text>
<rect x="156" y="84.1" width="12.5" height="4.6" fill="#2f5597"/>
<text x="175" y="89.5" font-size="10" fill="#777">MA 50</text>
<text x="920" y="89.5" font-size="10" fill="#999" text-anchor="end">Research © 2025 Trading Central</text>
<rect x="13.5" y="469.1" width="12.5" height="4.7" fill="#5b82e8"/>
<text x="33" y="474.5" font-size="10" fill="#6c6c72">RSI</text>
<rect x="62" y="469.1" width="12.5" height="4.7" fill="#fb0000"/>
<text x="81.5" y="474.5" font-size="10" fill="#6c6c72">9MA</text>
</svg>
</body></html>
